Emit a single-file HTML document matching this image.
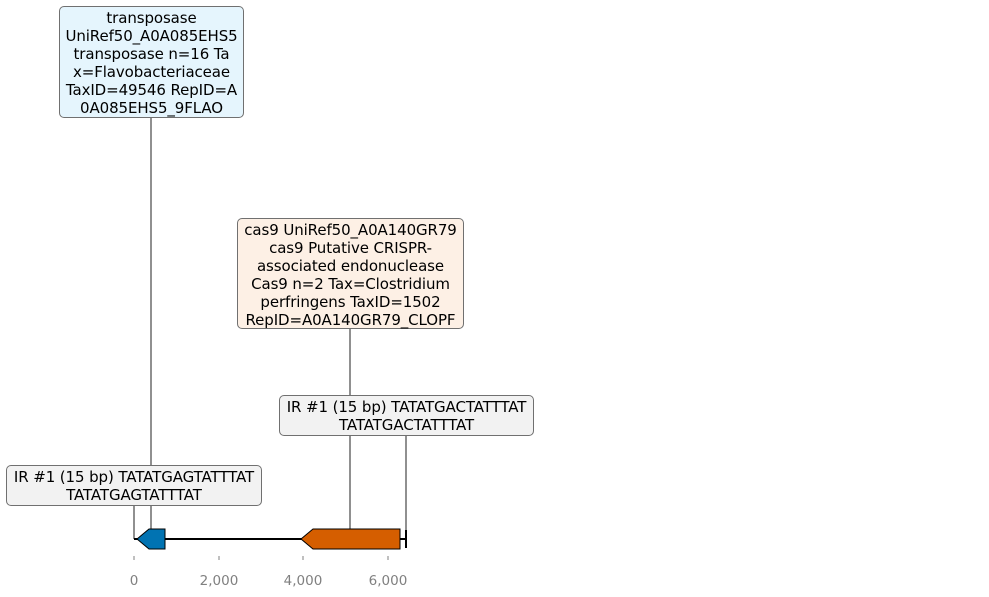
<!DOCTYPE html>
<html><head><style>
body{margin:0;background:#fff;width:989px;height:597px;overflow:hidden;font-family:"DejaVu Sans","Liberation Sans",sans-serif}
.b{position:absolute;box-sizing:border-box;border:1px solid #707070;border-radius:5px;font-size:15px;line-height:18px;text-align:center;color:#000;padding-top:2px;white-space:nowrap;letter-spacing:-0.1px}
</style></head><body>
<svg width="989" height="597" style="position:absolute;left:0;top:0">
<g stroke="#222" stroke-width="1">
<line x1="151" y1="118" x2="151" y2="532"/>
<line x1="350" y1="329" x2="350" y2="530"/>
<line x1="406" y1="436" x2="406" y2="539"/>
<line x1="134" y1="506" x2="134" y2="539"/>
</g>
<line x1="134" y1="539" x2="406" y2="539" stroke="#000" stroke-width="2"/>
<polygon points="137,539 149,529 165,529 165,549 149,549" fill="#0173b2" stroke="#000" stroke-width="1"/>
<polygon points="301,539 313,529 400,529 400,549 313,549" fill="#d55e00" stroke="#000" stroke-width="1"/>
<line x1="406" y1="530" x2="406" y2="548" stroke="#000" stroke-width="2"/>
<g stroke="#808080" stroke-width="1">
<line x1="134" y1="556" x2="134" y2="560"/><line x1="219" y1="556" x2="219" y2="560"/>
<line x1="303" y1="556" x2="303" y2="560"/><line x1="388" y1="556" x2="388" y2="560"/>
</g>
<g fill="#808080" font-size="13.5" text-anchor="middle" font-family="DejaVu Sans,sans-serif">
<text x="134" y="585">0</text><text x="219" y="585">2,000</text><text x="303" y="585">4,000</text><text x="388" y="585">6,000</text>
</g>
</svg>
<div class="b" style="left:59px;top:6px;width:185px;height:112px;background:#e5f5fd">transposase<br>UniRef50_A0A085EHS5<br>transposase n=16 Ta<br>x=Flavobacteriaceae<br>TaxID=49546 RepID=A<br>0A085EHS5_9FLAO</div>
<div class="b" style="left:237px;top:218px;width:227px;height:111px;background:#fdf0e5">cas9 UniRef50_A0A140GR79<br>cas9 Putative CRISPR-<br>associated endonuclease<br>Cas9 n=2 Tax=Clostridium<br>perfringens TaxID=1502<br>RepID=A0A140GR79_CLOPF</div>
<div class="b" style="left:279px;top:395px;width:255px;height:41px;background:#f2f2f2">IR #1 (15 bp) TATATGACTATTTAT<br>TATATGACTATTTAT</div>
<div class="b" style="left:6px;top:465px;width:256px;height:41px;background:#f2f2f2">IR #1 (15 bp) TATATGAGTATTTAT<br>TATATGAGTATTTAT</div>
</body></html>
